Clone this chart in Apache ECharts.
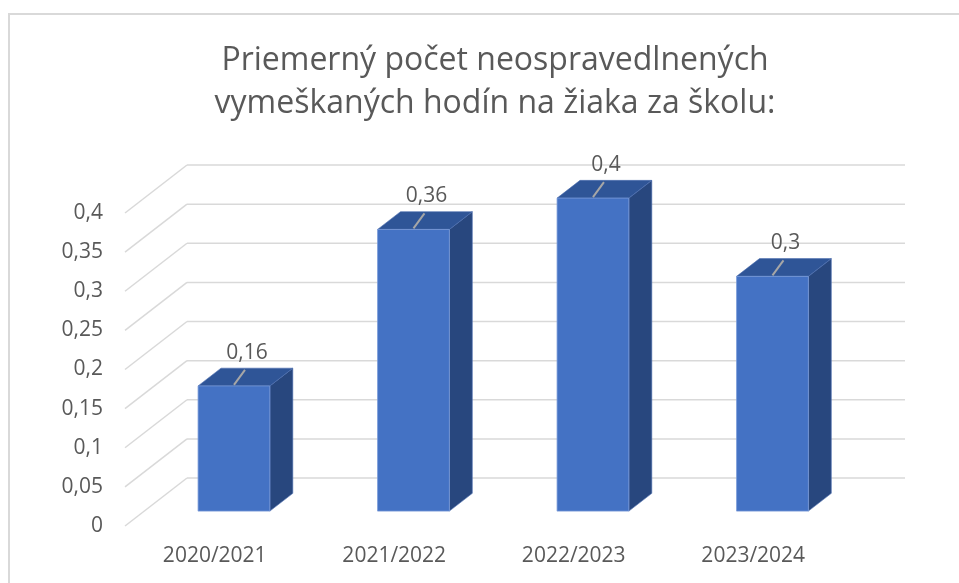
<!DOCTYPE html>
<html>
<head>
<meta charset="utf-8">
<script src="https://cdn.jsdelivr.net/npm/echarts@6/dist/echarts.min.js"></script>
<style>
html,body{margin:0;padding:0;background:#fff;}
#chart{width:959px;height:583px;}
</style>
</head>
<body>
<div id="chart"></div>
<script>
const categories = ['2020/2021', '2021/2022', '2022/2023', '2023/2024'];
const values = [0.16, 0.36, 0.4, 0.3];
const yTicks = [0, 0.05, 0.1, 0.15, 0.2, 0.25, 0.3, 0.35, 0.4];
const titleText = 'Priemerný počet neospravedlnených\nvymeškaných hodín na žiaka za školu:';

const FONT = 'Open Sans';
const TEXT = '#595959';
const DEPTH_X = 62, DEPTH_Y = 48;      // perspective depth of floor
const BAR_FRONT = 0.31, BAR_BACK = 0.68; // bar depth fractions
const BAR_W = 0.4;
const fmt = v => String(+v.toFixed(4)).replace('.', ',');

const chart = echarts.init(document.getElementById('chart'));
chart.setOption({
  animation: false,
  backgroundColor: '#fff',
  title: {
    text: titleText,
    left: 490, top: 34, textAlign: 'center',
    textStyle: {fontFamily: FONT, fontSize: 32, fontWeight: 'normal', color: TEXT, lineHeight: 43}
  },
  graphic: [{
    type: 'rect', shape: {x: 9, y: 14, width: 990, height: 620},
    style: {fill: 'none', stroke: '#d9d9d9', lineWidth: 2}, silent: true
  }],
  grid: {left: 125, right: 116, top: 213, bottom: 57},
  xAxis: {
    type: 'category', data: categories,
    axisLine: {show: false}, axisTick: {show: false},
    axisLabel: {fontFamily: FONT, fontSize: 21, color: TEXT, margin: 20}
  },
  yAxis: {
    type: 'value', min: 0, max: 0.4, interval: 0.05,
    axisLine: {show: false}, axisTick: {show: false}, splitLine: {show: false},
    axisLabel: {fontFamily: FONT, fontSize: 21, color: TEXT, margin: 22, formatter: v => fmt(v)}
  },
  series: [
    {
      type: 'custom', silent: true, z: 1,
      data: yTicks.map(v => [0, v]),
      renderItem: function (params, api) {
        const cs = params.coordSys;
        const y = api.coord([0, api.value(1)])[1];
        const x0 = cs.x;
        const style = {stroke: '#d9d9d9', lineWidth: 1.5};
        return {
          type: 'group',
          children: [
            {type: 'line', shape: {x1: x0, y1: y, x2: x0 + DEPTH_X, y2: y - DEPTH_Y}, style: style},
            {type: 'line', shape: {x1: x0 + DEPTH_X, y1: y - DEPTH_Y, x2: x0 + cs.width + DEPTH_X, y2: y - DEPTH_Y}, style: style}
          ]
        };
      }
    },
    {
      type: 'custom', silent: true, z: 2,
      data: values.map((v, i) => [i, v]),
      renderItem: function (params, api) {
        const i = api.value(0), v = api.value(1);
        const top = api.coord([i, v]);
        const base = api.coord([i, 0]);
        const bw = api.size([1, 0])[0] * BAR_W;
        const fx = DEPTH_X * BAR_FRONT, fy = DEPTH_Y * BAR_FRONT;
        const bx = DEPTH_X * BAR_BACK, by = DEPTH_Y * BAR_BACK;
        const L = top[0] - bw / 2, R = top[0] + bw / 2;
        const yT = top[1], yB = base[1];
        const front = [[L + fx, yT - fy], [R + fx, yT - fy], [R + fx, yB - fy], [L + fx, yB - fy]];
        const topFace = [[L + fx, yT - fy], [R + fx, yT - fy], [R + bx, yT - by], [L + bx, yT - by]];
        const side = [[R + fx, yT - fy], [R + bx, yT - by], [R + bx, yB - by], [R + fx, yB - fy]];
        const cx = top[0] + fx, cy = yT - fy;
        return {
          type: 'group',
          children: [
            {type: 'polygon', shape: {points: side}, style: {fill: '#28477E', stroke: '#4D6FB0', lineWidth: 0.6}},
            {type: 'polygon', shape: {points: topFace}, style: {fill: '#2F5597', stroke: '#4D6FB0', lineWidth: 0.6}},
            {type: 'polygon', shape: {points: front}, style: {fill: '#4472C4', stroke: '#7A9BD8', lineWidth: 0.8}},
            {type: 'line', shape: {x1: cx, y1: cy - 1, x2: cx + 11, y2: cy - 16}, style: {stroke: '#A6A6A6', lineWidth: 2}},
            {type: 'text', style: {text: fmt(v), x: cx + 13, y: cy - 33, textAlign: 'center', textVerticalAlign: 'middle',
              fontFamily: FONT, fontSize: 21, fill: TEXT}}
          ]
        };
      }
    }
  ]
});
</script>
</body>
</html>
